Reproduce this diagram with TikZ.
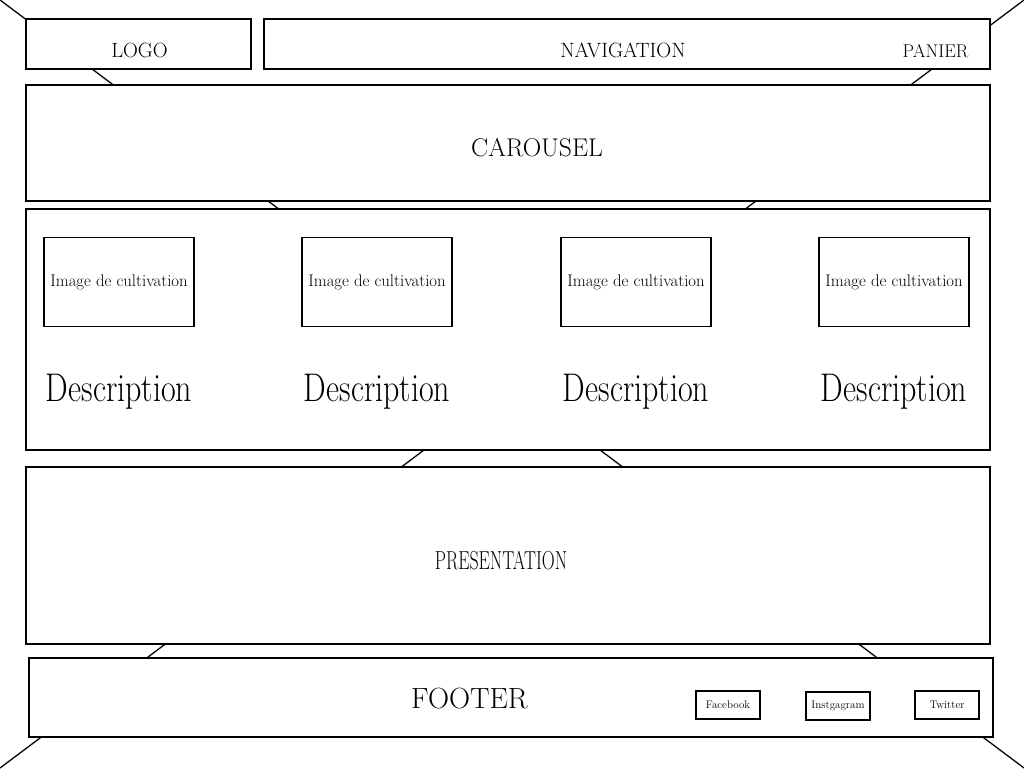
\documentclass[tikz,border=0pt]{standalone}
\usepackage{fontspec}

\def\boxlogo{(26,19) rectangle (251,69)}
\def\boxnav{(264,19) rectangle (990,69)}
\def\boxcarousel{(26,85) rectangle (990,201)}
\def\boxcontent{(26,209) rectangle (990,450)}
\def\boxpres{(26,467) rectangle (990,644)}
\def\boxfooter{(29,658) rectangle (993,737)}

\begin{document}
\begin{tikzpicture}[x=1pt,y=-1pt,line width=1.5pt,
    frame/.style={draw,fill=white},
    txt/.style={anchor=base,font=\fontsize{#1}{#1}\selectfont},
    imgbox/.style={draw,fill=white,inner sep=0pt,minimum width=150pt,
        minimum height=89pt,font=\fontsize{16.8}{16.8}\selectfont},
    social/.style={draw,fill=white,inner sep=0pt,minimum width=64pt,
        minimum height=28pt,font=\fontsize{11}{11}\selectfont}]

\useasboundingbox (0,0) rectangle (1024,768);

% the two diagonals behind the page
\coordinate (nw) at (0,0);
\coordinate (ne) at (1024,0);
\coordinate (sw) at (0,768);
\coordinate (se) at (1024,768);
\draw[line width=1.3pt] (nw) -- (se);
\draw[line width=1.3pt] (ne) -- (sw);

\begin{scope}% header
    \filldraw[frame] \boxlogo;
    \filldraw[frame] \boxnav;
    \node[txt=20.6] (logo) at (139.5,57) {LOGO};
    \node[txt=20.7] (nav) at (623,57) {NAVIGATION};
    \node[txt=18.4] (panier) at (935.5,57) {PANIER};
\end{scope}

\filldraw[frame] \boxcarousel;
\node[txt=25.6] (carousel) at (537,156) {CAROUSEL};

\begin{scope}% the four products
    \filldraw[frame] \boxcontent;
    \foreach \x in {119,377,636,894} {
        \node[imgbox] (img\x) at (\x,282) {Image de cultivation};
        \node[txt=40] (desc\x) at (\x,401) {\scalebox{0.8}[1]{Description}};
    }
\end{scope}

\filldraw[frame] \boxpres;
\node[txt=26] (pres) at (501,569) {\scalebox{0.69}[1]{PRESENTATION}};

\begin{scope}% footer
    \filldraw[frame] \boxfooter;
    \node[txt=29.2] (footer) at (469.5,708) {FOOTER};
    \node[social] (facebook) at (728,705) {Facebook};
    \node[social] (instagram) at (838,706) {Instgagram};
    \node[social] (twitter) at (947,705) {Twitter};
\end{scope}

\end{tikzpicture}
\end{document}
